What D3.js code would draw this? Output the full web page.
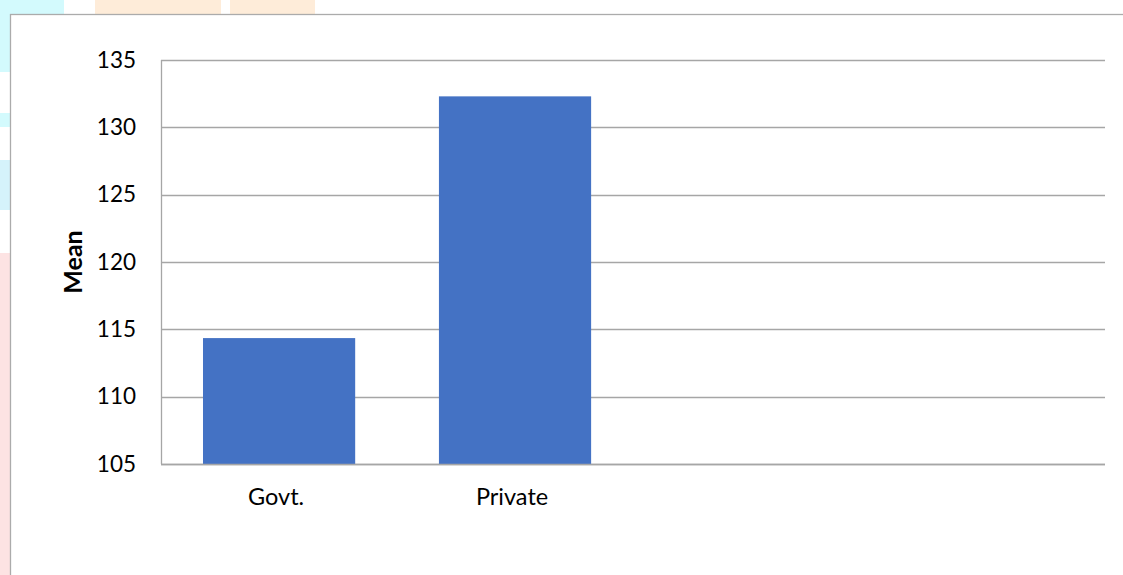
<!DOCTYPE html>
<html>
<head>
<meta charset="utf-8">
<script src="https://cdn.jsdelivr.net/npm/d3@7"></script>
<style>
  html, body { margin: 0; padding: 0; background: #fff; }
  svg { display: block; }
</style>
</head>
<body>
<svg id="chart" width="1123" height="575"></svg>
<script>
// Data
const categories = ["Govt.", "Private", "slot3", "slot4"];
const labels = ["Govt.", "Private", "", ""];
const values = [114.35, 132.3, null, null];
const yTicks = [105, 110, 115, 120, 125, 130, 135];
const yTitle = "Mean";

const W = 1123, H = 575;
const margin = { left: 161, right: 18, top: 60, bottom: 111 };
const svg = d3.select("#chart");

// faint background watermark remnants outside the frame
const bg = svg.append("g");
[
  [0, 0, 10, 72, "#d3fafd"], [0, 0, 64, 14, "#d3fafd"], [0, 113, 10, 14, "#d3fafd"],
  [0, 160, 10, 50, "#d5f3fb"], [0, 253, 10, 322, "#fde3e3"],
  [95, 0, 126, 14, "#feecd9"], [230, 0, 85, 14, "#feecd9"]
].forEach(r => bg.append("rect").attr("x", r[0]).attr("y", r[1]).attr("width", r[2]).attr("height", r[3]).attr("fill", r[4]));

// outer frame
svg.append("rect").attr("x", 10.5).attr("y", 14.5).attr("width", W + 10).attr("height", H + 10)
  .attr("fill", "#fff").attr("stroke", "#ababab").attr("stroke-width", 1.3);

const x = d3.scaleBand().domain(categories).range([margin.left, W - margin.right]).paddingInner(0.355).paddingOuter(0.178);
const y = d3.scaleLinear().domain([105, 135]).range([H - margin.bottom, margin.top]);

// gridlines
svg.append("g").selectAll("line").data(yTicks).join("line")
  .attr("x1", margin.left).attr("x2", W - margin.right)
  .attr("y1", d => Math.round(y(d)) + 0.5).attr("y2", d => Math.round(y(d)) + 0.5)
  .attr("stroke", "#a6a6a6").attr("stroke-width", 1.3);

// bars
svg.append("g").selectAll("rect").data(categories.map((c, i) => ({ c, v: values[i] })).filter(d => d.v != null)).join("rect")
  .attr("x", d => x(d.c)).attr("width", x.bandwidth())
  .attr("y", d => y(d.v)).attr("height", d => y(105) - y(d.v))
  .attr("fill", "#4472c4");

// y axis line
svg.append("line").attr("x1", margin.left + 0.5).attr("x2", margin.left + 0.5)
  .attr("y1", y(135)).attr("y2", y(105)).attr("stroke", "#a6a6a6").attr("stroke-width", 1.3);
// x axis baseline
svg.append("line").attr("x1", margin.left).attr("x2", W - margin.right)
  .attr("y1", Math.round(y(105)) + 0.5).attr("y2", Math.round(y(105)) + 0.5)
  .attr("stroke", "#a6a6a6").attr("stroke-width", 1.5);

// y axis labels via d3 axis
const yAxis = d3.axisLeft(y).tickValues(yTicks).tickSize(0).tickPadding(25);
const gy = svg.append("g").attr("transform", `translate(${margin.left},0)`).call(yAxis);
gy.select(".domain").remove();
gy.selectAll("text").attr("font-family", "Lato, 'Open Sans', sans-serif").attr("font-size", 22.5).attr("fill", "#000");

// x axis labels
const xAxis = d3.axisBottom(x).tickSize(0).tickPadding(24).tickFormat((d, i) => labels[i]);
const gx = svg.append("g").attr("transform", `translate(0,${y(105)})`).call(xAxis);
gx.select(".domain").remove();
gx.selectAll("text").attr("font-family", "Lato, 'Open Sans', sans-serif").attr("font-size", 23.5).attr("fill", "#000")
  .attr("dx", -3);

// y title
svg.append("text").attr("transform", `translate(82,262) rotate(-90)`)
  .attr("text-anchor", "middle").attr("font-family", "Lato, 'Open Sans', sans-serif")
  .attr("font-weight", "bold").attr("font-size", 25).text(yTitle);
</script>
</body>
</html>
